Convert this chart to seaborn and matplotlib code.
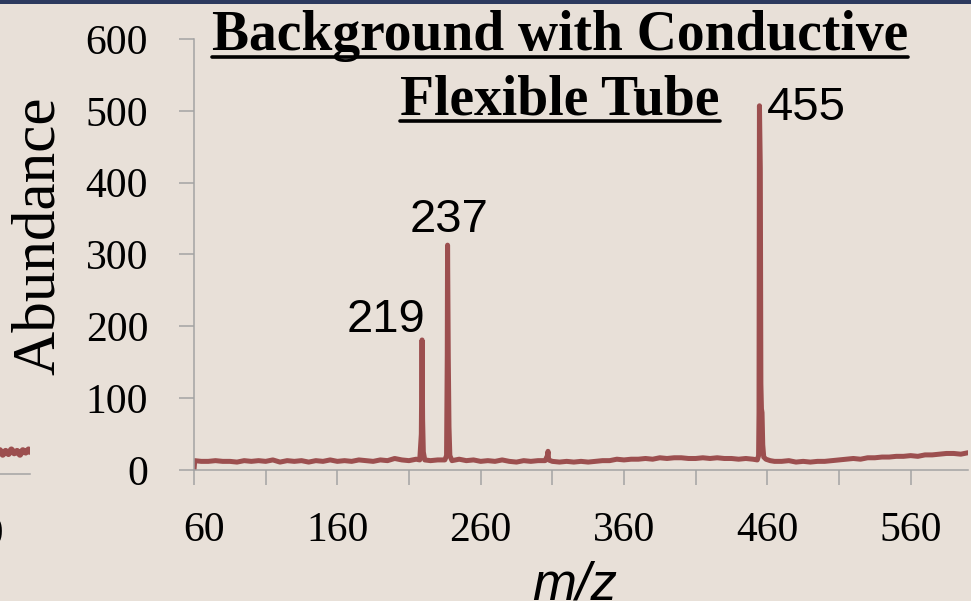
import numpy as np
import pandas as pd
import matplotlib.pyplot as plt
import seaborn as sns
from matplotlib.lines import Line2D
from matplotlib.patches import Rectangle
from matplotlib.transforms import ScaledTranslation

# Spectrum: background with conductive flexible tube
mz = [60, 60.5, 65, 70, 75, 80, 85, 90, 95, 100, 105, 110, 115, 120, 125, 130, 135, 140, 145, 150,
      155, 160, 165, 170, 175, 180, 185, 190, 195, 200, 205, 210, 215, 217.5, 218.6, 219.1, 219.5,
      220, 221, 225, 230, 235, 236.2, 236.7, 236.9, 237.4, 237.9, 238.5, 240, 245, 250, 255, 260,
      265, 270, 275, 280, 285, 290, 295, 300, 305, 306.6, 307, 307.4, 310, 315, 320, 325, 330, 335,
      340, 345, 350, 355, 360, 365, 370, 375, 380, 385, 390, 395, 400, 405, 410, 415, 420, 425, 430,
      435, 440, 445, 450, 453, 453.9, 454.2, 454.5, 455.1, 455.5, 455.9, 456.3, 456.8, 457.5, 459,
      462, 465, 470, 475, 480, 485, 490, 495, 500, 505, 510, 515, 520, 525, 530, 535, 540, 545, 550,
      555, 560, 565, 570, 575, 580, 585, 590, 595, 600]
abundance = [0, 13, 12, 12, 13, 12, 12, 11, 13, 12, 13, 12, 14, 11, 13, 12, 13, 11, 13, 12,
             14, 12, 13, 12, 14, 13, 12, 14, 13, 16, 14, 13, 15, 14, 50, 181, 70,
             25, 14, 13, 14, 14, 20, 160, 313, 157, 60, 20, 13, 15, 13, 14, 12,
             13, 12, 14, 12, 11, 13, 12, 13, 13, 20, 26, 14, 12, 11, 12, 11, 12, 11,
             12, 13, 13, 15, 14, 15, 15, 16, 15, 17, 16, 17, 17, 16, 16, 17, 16, 17, 16,
             16, 15, 16, 15, 14, 20, 80, 507, 420, 120, 85, 80, 35, 18, 15,
             13, 12, 12, 13, 11, 12, 11, 12, 12, 13, 14, 15, 16, 15, 17, 17, 18, 18, 19,
             19, 20, 19, 21, 21, 22, 23, 23, 22, 24]

peak_mz = [219, 237, 455]
peak_text = ['219', '237', '455']

# tail of the neighbouring spectrum that is cut off at the left edge
left_mz = [577, 579, 581, 583, 585, 587, 589, 591, 593, 595, 597, 599, 600]
left_abund = [29, 33, 27, 32, 28, 34, 29, 32, 27, 33, 30, 34, 31]

xticks = [60, 110, 160, 210, 260, 310, 360, 410, 460, 510, 560]
xticklabels = ['60', '', '160', '', '260', '', '360', '', '460', '', '560']
yticks = [0, 100, 200, 300, 400, 500, 600]

bg = '#e8e0d8'
red = '#9c4f4f'
grey = '#a3a3a3'

sns.set_theme(style='ticks', rc={'figure.facecolor': bg, 'axes.facecolor': bg,
                                 'axes.edgecolor': grey, 'xtick.color': grey, 'ytick.color': grey})
plt.rcParams['font.family'] = ['Liberation Serif', 'DejaVu Serif']

fig = plt.figure(figsize=(9.71, 6.01), dpi=100)

# left neighbour fragment
ax2 = fig.add_axes([-0.7673, 0.2113, 0.7982, 0.7171])
ax2.set_facecolor('none')
sns.lineplot(x=left_mz, y=left_abund, ax=ax2, color=red, lw=4.5)
ax2.set_xlim(60, 600)
ax2.set_ylim(0, 600)
sns.despine(ax=ax2, left=True)
ax2.set_xticks([560])
ax2.set_xticklabels(['560'])
ax2.set_yticks([])
ax2.tick_params(axis='x', length=11, width=1.1, pad=19, labelsize=30, labelcolor='black')
ax2.spines['bottom'].set_linewidth(1.1)
ax2.set_xlabel('')
ax2.set_ylabel('')

# main spectrum
ax = fig.add_axes([0.1998, 0.2180, 0.7971, 0.7171])
ax.set_facecolor('none')
df = pd.DataFrame({'mz': mz, 'abundance': abundance})
sns.lineplot(data=df, x='mz', y='abundance', ax=ax, color=red, lw=3.6)
ax.set_xlim(60, 600)
ax.set_ylim(0, 600)
sns.despine(ax=ax)
ax.spines['left'].set_linewidth(1.1)
ax.spines['bottom'].set_linewidth(1.1)
ax.set_xticks(xticks)
ax.set_xticklabels(xticklabels)
ax.set_yticks(yticks)
ax.tick_params(axis='both', length=11, width=1.1, labelsize=30, labelcolor='black')
ax.tick_params(axis='y', pad=22)
ax.tick_params(axis='x', pad=19)
# the first x label sits a little to the right of its tick
first = ax.get_xticklabels()[0]
first.set_transform(first.get_transform() + ScaledTranslation(0.1, 0, fig.dpi_scale_trans))

ax.set_ylabel('Abundance', fontsize=44, color='black', va='center')
ax.yaxis.set_label_coords(-0.2003, 0.543)
ax.set_xlabel('m/z', fontsize=38, color='black', style='italic',
              family=['Liberation Sans', 'DejaVu Sans'], va='baseline')
ax.xaxis.set_label_coords(0.492, -0.3016)

label_pos = [(193.8, 192.6), (237.7, 331.5), (487.0, 487.5)]
for (lx, ly), txt in zip(label_pos, peak_text):
    ax.text(lx, ly, txt, fontsize=34, ha='center', va='baseline', color='black',
            family=['Liberation Sans', 'DejaVu Sans'])

# title, two underlined lines
t1 = fig.text(0.5767, 1 - 50 / 601, 'Background with Conductive', fontsize=40,
              fontweight='bold', ha='center', va='baseline', color='black')
t2 = fig.text(0.5767, 1 - 114 / 601, 'Flexible Tube', fontsize=40,
              fontweight='bold', ha='center', va='baseline', color='black')
fig.canvas.draw()
r = fig.canvas.get_renderer()
for t, uy in [(t1, 57), (t2, 121)]:
    bb = t.get_window_extent(r).transformed(fig.transFigure.inverted())
    fig.add_artist(Line2D([bb.x0, bb.x1], [1 - uy / 601, 1 - uy / 601],
                          transform=fig.transFigure, color='black', lw=2.6))

# dark strip along the top edge
fig.add_artist(Rectangle((0, 1 - 4 / 601), 1, 4 / 601, transform=fig.transFigure,
                         color='#2c3a5e', lw=0))

fig.savefig('out.png', dpi=100, facecolor=bg)
